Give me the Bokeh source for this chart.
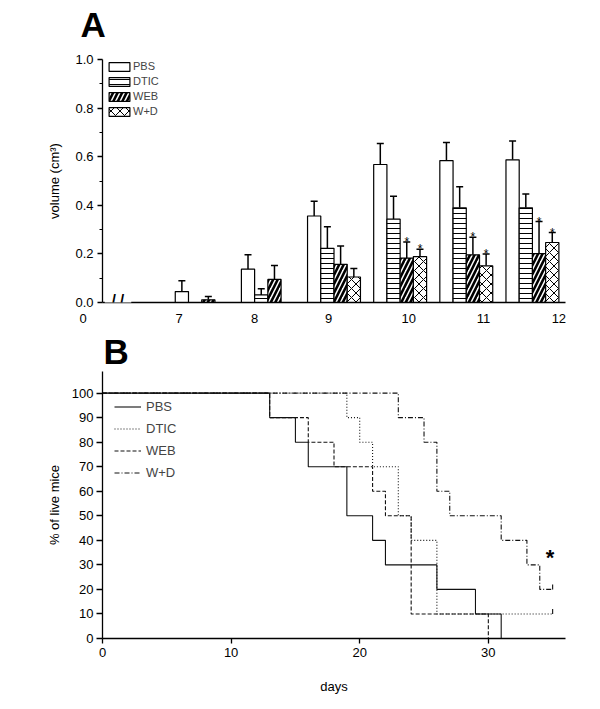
import numpy as np
from bokeh.plotting import figure
from bokeh.models import (ColumnDataSource, Whisker, TeeHead, Legend, LegendItem,
                          FixedTicker, Label, Range1d, PrintfTickFormatter, Title)
from bokeh.layouts import column
from bokeh.embed import file_html
from bokeh.resources import INLINE
from bokeh.core.properties import value

FONT = "Liberation Sans"

# ---------------- Panel A data: tumour volume (cm^3) ----------------
days = [7, 8, 9, 10, 11, 12]
day_label_pos = [6.66, 7.80, 8.92, 10.13, 11.26, 12.40]
origin_label = "0"
treatments = ["PBS", "DTIC", "WEB", "W+D"]
vol_pbs = [0.045, 0.137, 0.356, 0.568, 0.584, 0.587]
sem_pbs = [0.044, 0.060, 0.061, 0.086, 0.074, 0.078]
vol_dtic = [0.0, 0.031, 0.223, 0.343, 0.390, 0.390]
sem_dtic = [0.0, 0.026, 0.089, 0.094, 0.086, 0.057]
vol_web = [0.011, 0.095, 0.157, 0.183, 0.196, 0.201]
sem_web = [0.014, 0.057, 0.076, 0.066, 0.073, 0.132]
vol_wd = [0.0, 0.0, 0.105, 0.189, 0.151, 0.247]
sem_wd = [0.0, 0.0, 0.035, 0.030, 0.049, 0.041]
sig_pbs = [False] * 6
sig_dtic = [False] * 6
sig_web = [False, False, False, True, True, True]
sig_wd = [False, False, False, True, True, True]
y_ticks_a = [0.0, 0.2, 0.4, 0.6, 0.8, 1.0]
y_minor_a = [0.1, 0.3, 0.5, 0.7, 0.9]

# ---------------- Panel B data: survival (%) ----------------
pbs_t = [0, 13, 15, 16, 19, 21, 22, 26, 29, 31]
pbs_s = [100, 90, 80, 70, 50, 40, 30, 20, 10, 0]
dtic_t = [0, 19, 20, 21, 23, 24, 26, 35]
dtic_s = [100, 90, 80, 70, 50, 40, 10, 10]
web_t = [0, 13, 16, 18, 21, 22, 24, 30]
web_s = [100, 90, 80, 70, 60, 50, 10, 0]
wd_t = [0, 23, 25, 26, 27, 31, 33, 34, 35]
wd_s = [100, 90, 80, 60, 50, 40, 30, 20, 20]
cens_dtic_t, cens_dtic_s = [35], [10]
cens_wd_t, cens_wd_s = [35], [20]
cens_pbs_t, cens_pbs_s = [], []
cens_web_t, cens_web_s = [], []
star_b_x, star_b_y = [34.8], [33]
x_ticks_b = [0, 10, 20, 30]
y_ticks_b = [0, 10, 20, 30, 40, 50, 60, 70, 80, 90, 100]


def style_axes(p):
    for ax in p.axis:
        ax.axis_line_color = "black"
        ax.axis_line_width = 1.3
        ax.major_tick_line_color = "black"
        ax.major_tick_line_width = 1.3
        ax.minor_tick_line_color = "black"
        ax.minor_tick_line_width = 1
        ax.major_label_text_font = FONT
        ax.major_label_text_font_size = "13px"
        ax.major_label_text_color = "black"
        ax.axis_label_text_font = FONT
        ax.axis_label_text_font_size = "13px"
        ax.axis_label_text_font_style = "normal"
        ax.axis_label_text_color = "black"
    p.grid.visible = False
    p.outline_line_color = None


def style_title(p, offset, standoff):
    p.title.align = "left"
    p.title.offset = offset
    p.title.standoff = standoff
    p.title.text_font = FONT
    p.title.text_font_size = "35px"
    p.title.text_font_style = "bold"
    p.title.text_color = "black"


# ================= Panel A =================
pA = figure(width=592, height=328, x_range=Range1d(5.5, 12.5), y_range=Range1d(0, 1.0),
            output_backend="svg", toolbar_location=None, title="A",
            min_border_left=102, min_border_right=27, min_border_top=59, min_border_bottom=22)
style_axes(pA)
style_title(pA, -22, 0)
# thin spacer between the panel letter and the plot frame
pA.add_layout(Title(text=" ", text_font_size="2px", standoff=12), "above")

bar_w = 0.2
hatch_styles = {
    "PBS": dict(),
    "DTIC": dict(hatch_pattern="horizontal_line", hatch_scale=5, hatch_weight=1, hatch_color="black"),
    "WEB": dict(hatch_pattern="right_diagonal_line", hatch_scale=9, hatch_weight=2.6, hatch_color="black"),
    "W+D": dict(hatch_pattern="diagonal_cross", hatch_scale=9, hatch_weight=1, hatch_color="black"),
}
series = [("PBS", vol_pbs, sem_pbs, sig_pbs), ("DTIC", vol_dtic, sem_dtic, sig_dtic),
          ("WEB", vol_web, sem_web, sig_web), ("W+D", vol_wd, sem_wd, sig_wd)]

legend_items_a = []
for k, (name, vals, sems, sig) in enumerate(series):
    off = (k - 1.5) * bar_w
    xs = [d + off for d, v in zip(days, vals) if v > 0]
    tops = [v for v in vals if v > 0]
    ups = [v + s for v, s in zip(vals, sems) if v > 0]
    src = ColumnDataSource(dict(x=xs, top=tops, upper=ups))
    r = pA.vbar(x="x", top="top", width=bar_w, bottom=0, source=src, fill_color="white",
                line_color="black", line_width=1.2, **hatch_styles[name])
    pA.add_layout(Whisker(source=src, base="x", lower="top", upper="upper", dimension="height",
                          line_color="black", line_width=1.5, lower_head=None,
                          upper_head=TeeHead(size=7, line_color="black", line_width=1.5)))
    sx = [d + off for d, v, s in zip(days, vals, sig) if s]
    sy = [v + e for v, e, s in zip(vals, sems, sig) if s]
    if sx:
        pA.text(x=sx, y=sy, text=["*"] * len(sx), text_font=value(FONT), text_font_size="12px",
                text_align="center", text_baseline="alphabetic", text_color="black")
    legend_items_a.append(LegendItem(label=name, renderers=[r]))

legA = Legend(items=legend_items_a, location=(4, 185), orientation="vertical",
              glyph_width=26, glyph_height=11, label_height=12, spacing=3, padding=0, margin=0,
              label_standoff=1, label_text_font=FONT, label_text_font_size="11px",
              border_line_color=None, background_fill_alpha=0)
pA.add_layout(legA)

x_start_a = pA.x_range.start
pA.xaxis.ticker = FixedTicker(ticks=[x_start_a] + day_label_pos)
overrides = {p: str(d) for p, d in zip(day_label_pos, days)}
# the origin label sits left of the y axis in the original figure
overrides[x_start_a] = origin_label + "\u2007" * 5 + "\u2009"
pA.xaxis.major_label_overrides = overrides
pA.xaxis.major_tick_out = 0
pA.xaxis.major_tick_in = 0
pA.xaxis.minor_tick_out = 0
pA.xaxis.major_label_standoff = 8

pA.yaxis.ticker = FixedTicker(ticks=y_ticks_a, minor_ticks=y_minor_a)
pA.yaxis.formatter = PrintfTickFormatter(format="%.1f")
pA.yaxis.major_tick_out = 5
pA.yaxis.major_tick_in = 0
pA.yaxis.minor_tick_out = 3
pA.yaxis.minor_tick_in = 0
pA.yaxis.major_label_standoff = 4
pA.yaxis.axis_label = "volume (cm³)"
pA.yaxis.axis_label_standoff = 10

# axis break mark
pA.add_layout(Label(x=x_start_a, y=0, x_offset=15.5, y_offset=3, text="/ /", text_align="center",
                    text_baseline="middle", text_font=FONT, text_font_size="15px",
                    text_font_style="bold", text_color="black",
                    background_fill_color="white", padding=7))

# ================= Panel B =================
pB = figure(width=592, height=372, x_range=Range1d(0, 36), y_range=Range1d(0, 108.8),
            output_backend="svg", toolbar_location=None, title="B",
            min_border_left=101, min_border_right=20, min_border_top=42, min_border_bottom=62)
style_axes(pB)
style_title(pB, 1, 2)

curves = [("PBS", pbs_t, pbs_s, "solid", cens_pbs_t, cens_pbs_s),
          ("DTIC", dtic_t, dtic_s, "1 2", cens_dtic_t, cens_dtic_s),
          ("WEB", web_t, web_s, "4 2", cens_web_t, cens_web_s),
          ("W+D", wd_t, wd_s, "5 2 1 2", cens_wd_t, cens_wd_s)]
legend_items_b = []
for name, t, s, dash, ct, cs in curves:
    r = pB.step(x=t, y=s, mode="after", line_color="#111111", line_width=1.1, line_dash=dash)
    mk = pB.scatter(x=[], y=[], marker="dash", angle=np.pi / 2, size=8, line_color="#111111",
                    line_width=1.1)
    if ct:
        pB.ray(x=ct, y=cs, length=5, length_units="screen", angle=np.pi / 2,
               line_color="#111111", line_width=1.1)
    legend_items_b.append(LegendItem(label=name, renderers=[r, mk]))

pB.text(x=star_b_x, y=star_b_y, text=["*"], text_font=value(FONT), text_font_size="22px",
        text_font_style="bold", text_align="center", text_baseline="middle", text_color="black")

legB = Legend(items=legend_items_b, location=(12, 158), orientation="vertical",
              glyph_width=27, glyph_height=15, label_height=15, spacing=7, padding=0, margin=0,
              label_standoff=5, label_text_font=FONT, label_text_font_size="13px",
              border_line_color=None, background_fill_alpha=0)
pB.add_layout(legB)

pB.xaxis.ticker = FixedTicker(ticks=x_ticks_b)
pB.xaxis.major_tick_out = 5
pB.xaxis.major_tick_in = 0
pB.xaxis.major_label_standoff = 4
pB.xaxis.axis_label = "days"
pB.xaxis.axis_label_standoff = 19
pB.yaxis.ticker = FixedTicker(ticks=y_ticks_b)
pB.yaxis.major_tick_out = 6
pB.yaxis.major_tick_in = 0
pB.yaxis.major_label_standoff = 3
pB.yaxis.axis_label = "% of live mice"
pB.yaxis.axis_label_standoff = 7

layout = column(pA, pB, spacing=0)
open("out.html", "w").write(file_html(layout, INLINE))
